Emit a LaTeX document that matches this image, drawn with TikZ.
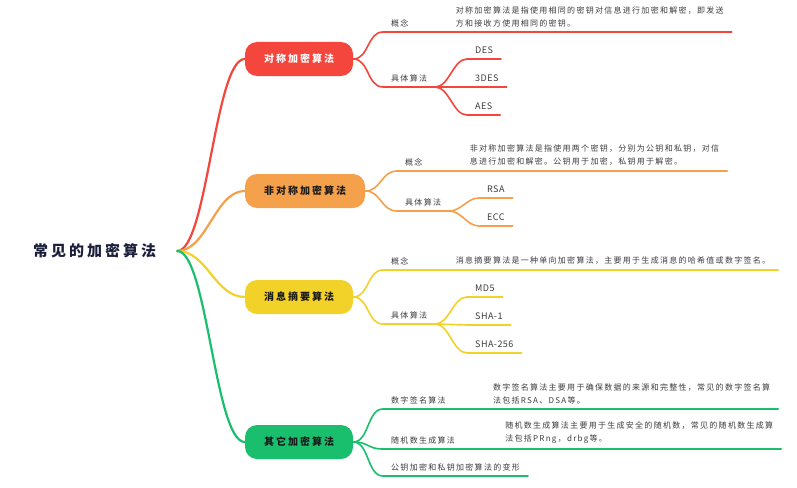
\documentclass[tikz,border=0pt]{standalone}
\usepackage{fontspec}
\setmainfont{Noto Sans CJK SC}
\newfontfamily\subfont[LetterSpace=16]{Noto Sans CJK SC}
\newfontfamily\leaffont[LetterSpace=5]{Noto Sans CJK SC}
\newfontfamily\topfont[LetterSpace=20]{Noto Sans CJK SC}
\usetikzlibrary{positioning}

\definecolor{symred}{HTML}{F5463E}
\definecolor{asyorange}{HTML}{F5A04B}
\definecolor{mdyellow}{HTML}{F2D128}
\definecolor{othgreen}{HTML}{1ABF6E}
\definecolor{rootblue}{HTML}{1C1F3B}
\definecolor{subgray}{HTML}{3C3C3C}

\begin{document}
\begin{tikzpicture}[
  x=1pt, y=-1pt,
  topic/.style={rounded corners=12pt, minimum width=108pt, minimum height=34pt,
                inner sep=0pt, text=black!90,
                font=\topfont\bfseries\fontsize{10}{12}\selectfont},
  sub/.style={anchor=south west, inner xsep=8pt, inner ysep=5pt, text=subgray,
              align=left, font=\subfont\fontsize{8}{13}\selectfont},
  leaf/.style={sub, font=\leaffont\fontsize{9}{11}\selectfont},
  br/.style={line width=2.2pt, line cap=round},
  ln/.style={line width=1.6pt, line cap=round}
]
\useasboundingbox[fill=white] (0,0) rectangle (797,487);

\node[text=rootblue, inner xsep=21pt, inner ysep=2pt,
  font=\topfont\bfseries\fontsize{15}{18}\selectfont] (root) at (94.5,251) {常见的加密算法};

\node[topic, fill=symred, text=white] (sym) at (299,59) {对称加密算法};
\node[topic, fill=asyorange, minimum width=120pt] (asym) at (305,191) {非对称加密算法};
\node[topic, fill=mdyellow] (dig) at (299,297) {消息摘要算法};
\node[topic, fill=othgreen] (oth) at (299,442) {其它加密算法};

\draw[br, symred] (root.east) .. controls +(30,0) and +(-30,0) .. (sym.west);
\draw[br, asyorange] (root.east) .. controls +(30,0) and +(-30,0) .. (asym.west);
\draw[br, mdyellow] (root.east) .. controls +(30,0) and +(-30,0) .. (dig.west);
\draw[br, othgreen] (root.east) .. controls +(30,0) and +(-30,0) .. (oth.west);

% symmetric
\node[sub] (symc) at (383,32) {概念};
\node[sub] (symcd) at ([xshift=31pt]symc.south east)
  {对称加密算法是指使用相同的密钥对信息进行加密和解密，即发送\\方和接收方使用相同的密钥。};
\node[sub] (symk) at (383,87) {具体算法};
\node[leaf] (des) at (467,59) {DES};
\node[leaf] (tdes) at (467,87) {3DES};
\node[leaf] (aes) at (467,115) {AES};

\draw[ln, symred] (sym.east) .. controls +(16,0) and +(-16,0) .. (symc.south west)
  -- (symc.south east) -- (symcd.south east);
\draw[ln, symred] (sym.east) .. controls +(16,0) and +(-16,0) .. (symk.south west)
  -- (symk.south east);
\draw[ln, symred] (symk.south east) .. controls +(14,0) and +(-14,0) .. (des.south west)
  -- (des.south east);
\draw[ln, symred] (symk.south east) -- (tdes.south west) -- (tdes.south east);
\draw[ln, symred] (symk.south east) .. controls +(14,0) and +(-14,0) .. (aes.south west)
  -- (aes.south east);

% asymmetric
\node[sub] (asyc) at (397,171) {概念};
\node[sub] (asycd) at ([xshift=31pt]asyc.south east)
  {非对称加密算法是指使用两个密钥，分别为公钥和私钥，对信\\息进行加密和解密。公钥用于加密，私钥用于解密。};
\node[sub] (asyk) at (397,211) {具体算法};
\node[leaf] (rsa) at (479,198) {RSA};
\node[leaf] (ecc) at (479,226) {ECC};

\draw[ln, asyorange] (asym.east) .. controls +(16,0) and +(-16,0) .. (asyc.south west)
  -- (asyc.south east) -- (asycd.south east);
\draw[ln, asyorange] (asym.east) .. controls +(16,0) and +(-16,0) .. (asyk.south west)
  -- (asyk.south east);
\draw[ln, asyorange] (asyk.south east) .. controls +(12,0) and +(-12,0) .. (rsa.south west)
  -- (rsa.south east);
\draw[ln, asyorange] (asyk.south east) .. controls +(12,0) and +(-12,0) .. (ecc.south west)
  -- (ecc.south east);

% digest
\node[sub] (digc) at (383,270) {概念};
\node[sub] (digcd) at ([xshift=31pt]digc.south east)
  {消息摘要算法是一种单向加密算法，主要用于生成消息的哈希值或数字签名。};
\node[sub] (digk) at (383,324) {具体算法};
\node[leaf] (md) at (467,297) {MD5};
\node[leaf] (sha) at (467,325) {SHA-1};
\node[leaf] (shb) at (467,353) {SHA-256};

\draw[ln, mdyellow] (dig.east) .. controls +(16,0) and +(-16,0) .. (digc.south west)
  -- (digc.south east) -- (digcd.south east);
\draw[ln, mdyellow] (dig.east) .. controls +(16,0) and +(-16,0) .. (digk.south west)
  -- (digk.south east);
\draw[ln, mdyellow] (digk.south east) .. controls +(14,0) and +(-14,0) .. (md.south west)
  -- (md.south east);
\draw[ln, mdyellow] (digk.south east) -- (sha.south west) -- (sha.south east);
\draw[ln, mdyellow] (digk.south east) .. controls +(14,0) and +(-14,0) .. (shb.south west)
  -- (shb.south east);

% others
\node[sub] (sgn) at (383,409) {数字签名算法};
\node[sub] (sgnd) at ([xshift=31pt]sgn.south east)
  {数字签名算法主要用于确保数据的来源和完整性，常见的数字签名算\\法包括RSA、DSA等。};
\node[sub] (rng) at (383,449) {随机数生成算法};
\node[sub] (rngd) at ([xshift=34pt]rng.south east)
  {随机数生成算法主要用于生成安全的随机数，常见的随机数生成算\\法包括PRng，drbg等。};
\node[sub] (var) at (383,476) {公钥加密和私钥加密算法的变形};

\draw[ln, othgreen] (oth.east) .. controls +(16,0) and +(-16,0) .. (sgn.south west)
  -- (sgn.south east) -- (sgnd.south east);
\draw[ln, othgreen] (oth.east) .. controls +(16,0) and +(-16,0) .. (rng.south west)
  -- (rng.south east) -- (rngd.south east);
\draw[ln, othgreen] (oth.east) .. controls +(16,0) and +(-16,0) .. (var.south west)
  -- (var.south east);
\end{tikzpicture}
\end{document}
